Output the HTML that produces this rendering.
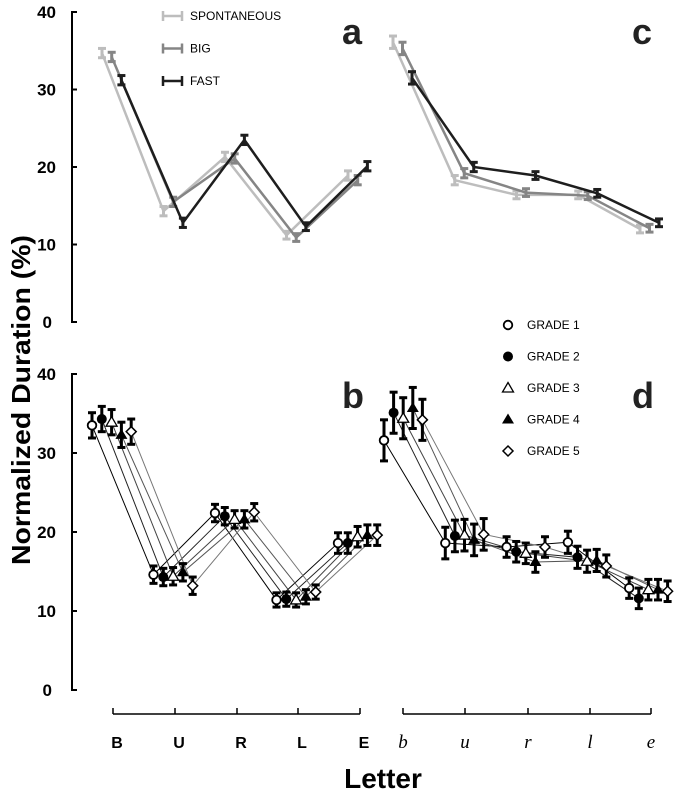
<!DOCTYPE html>
<html><head><meta charset="utf-8"><style>
body{margin:0;background:#fff}
svg{display:block;font-family:"Liberation Sans",Arial,sans-serif}
</style></head><body>
<svg id="c" width="675" height="793" viewBox="0 0 675 793"></svg>
<script>
// ---- data ----
const upperLetters = ["B","U","R","L","E"];
const cursiveLetters = ["b","u","r","l","e"];
const taskNames = ["SPONTANEOUS","BIG","FAST"];
const gradeNames = ["GRADE 1","GRADE 2","GRADE 3","GRADE 4","GRADE 5"];
const yTicks = [0,10,20,30,40];
// panel a (print, task)
const aSpont = [34.7,14.3,21.3,11.2,18.9];
const aBig   = [34.2,15.5,21.1,10.9,18.3];
const aFast  = [31.2,12.8,23.5,12.3,20.1];
const aErr   = [0.6,0.6,0.6,0.5,0.6];
// panel c (cursive, task)
const cSpont = [36.1,18.3,16.4,16.4,12.0];
const cBig   = [35.3,19.2,16.7,16.3,12.1];
const cFast  = [31.5,20.0,18.9,16.6,12.8];
const cErr   = [0.8,0.6,0.5,0.5,0.5];
// panel b (print, grade)
const bG1 = [33.5,14.6,22.4,11.4,18.6];
const bG2 = [34.3,14.3,22.0,11.5,18.6];
const bG3 = [33.9,14.4,21.6,11.4,19.4];
const bG4 = [32.3,14.9,21.6,11.8,19.6];
const bG5 = [32.7,13.2,22.5,12.4,19.6];
const bErr = [1.6,1.1,1.1,0.9,1.3];
// panel d (cursive, grade)
const dG1 = [31.6,18.6,18.1,18.7,12.9];
const dG2 = [35.1,19.5,17.5,16.8,11.6];
const dG3 = [34.4,19.6,17.3,16.3,12.7];
const dG4 = [35.7,19.0,16.2,16.4,12.7];
const dG5 = [34.2,19.7,18.1,15.7,12.5];
const dErr = [2.6,2.0,1.3,1.4,1.3];

const svg=document.getElementById('c');
const NS='http://www.w3.org/2000/svg';
function mk(tag,attrs,parent){const e=document.createElementNS(NS,tag);for(const k in attrs)e.setAttribute(k,attrs[k]);(parent||svg).appendChild(e);return e;}
function txt(s,attrs,parent){const e=mk('text',attrs,parent);e.textContent=s;return e;}

const yTop=v=>322-v*7.75;
const yBot=v=>690-v*7.9;
const xA=(i,j)=>102+i*61.5+j*9.7;
const xC=(i,j)=>393+i*61.75+j*9.5;
const xB=(i,j)=>92+i*61.5+j*9.8;
const xD=(i,j)=>384+i*61.3+j*9.6;

// y axes
function yAxis(sc,name){
  const g=mk('g',{});
  
  
  mk('line',{x1:72,x2:72,y1:sc(40),y2:sc(0),stroke:'#000','stroke-width':2},g);
  yTicks.forEach(t=>{
    mk('line',{x1:71,x2:77,y1:sc(t),y2:sc(t),stroke:'#000','stroke-width':2},g);
    const l=txt(String(t),{x:t===0?52:56,y:sc(t)+6,'text-anchor':'end','font-size':17,'font-weight':'bold'},g);
    
    
  });
}
yAxis(yTop,'y-axis-top');
yAxis(yBot,'y-axis-bottom');

const yt=txt('Normalized Duration (%)',{x:0,y:0,transform:'translate(30,400) rotate(-90)','text-anchor':'middle','font-size':26,'font-weight':'bold',textLength:330,lengthAdjust:'spacingAndGlyphs'});



// x axes
function xAxis(x0,x1,ticks,labels,italic,name){
  const g=mk('g',{});
  
  
  mk('line',{x1:x0,x2:x1,y1:714,y2:714,stroke:'#000','stroke-width':1.5},g);
  ticks.forEach((t,i)=>{
    mk('line',{x1:t,x2:t,y1:708,y2:714,stroke:'#000','stroke-width':1.5},g);
    const l=txt(labels[i],{x:t+(italic?0:4),y:748,'text-anchor':'middle','font-size':italic?19:16,'font-weight':italic?'normal':'bold','font-style':italic?'italic':'normal','font-family':italic?'"Liberation Serif",serif':'"Liberation Sans",sans-serif'},g);
    
    
  });
}
xAxis(113,360,[113,175,237,298,360],upperLetters,false,'x-axis-print');
xAxis(403,651,[403,465,528,590,651],cursiveLetters,true,'x-axis-cursive');
const xt=txt('Letter',{x:383,y:788,'text-anchor':'middle','font-size':28,'font-weight':'bold'});



// panel letters
[['a',342,44],['c',632,44],['b',342,408],['d',632,408]].forEach(p=>{
  const t=txt(p[0],{x:p[1],y:p[2],'font-size':36,'font-weight':'bold','fill':'#222'});
  
  
});

function errBar(g,x,y1,y2,color,w,cap){
  mk('line',{x1:x,x2:x,y1:y1,y2:y2,stroke:color,'stroke-width':w},g);
  mk('line',{x1:x-cap,x2:x+cap,y1:y1,y2:y1,stroke:color,'stroke-width':w},g);
  mk('line',{x1:x-cap,x2:x+cap,y1:y2,y2:y2,stroke:color,'stroke-width':w},g);
}

// task panels
const taskColors=['#bdbdbd','#858585','#1e1e1e'];
function taskPanel(series,err,xf,name){
  series.forEach((vals,j)=>{
    const g=mk('g',{});
    
    
    const pts=vals.map((v,i)=>xf(i,j)+','+yTop(v)).join(' ');
    mk('polyline',{points:pts,fill:'none',stroke:taskColors[j],'stroke-width':2.5},g);
    vals.forEach((v,i)=>errBar(g,xf(i,j),yTop(v+err[i]),yTop(v-err[i]),taskColors[j],3,4));
  });
}
taskPanel([aSpont,aBig,aFast],aErr,xA,'panel-a');
taskPanel([cSpont,cBig,cFast],cErr,xC,'panel-c');

// task legend
taskNames.forEach((n,j)=>{
  const g=mk('g',{});
  
  
  const y=16+j*32.5;
  mk('line',{x1:163,x2:182,y1:y,y2:y,stroke:taskColors[j],'stroke-width':2.5},g);
  mk('line',{x1:163,x2:163,y1:y-5,y2:y+5,stroke:taskColors[j],'stroke-width':2.5},g);
  mk('line',{x1:182,x2:182,y1:y-5,y2:y+5,stroke:taskColors[j],'stroke-width':2.5},g);
  txt(n,{x:190,y:y+4,'font-size':12},g);
});

// grade markers
function marker(g,k,x,y){
  if(k===0) mk('circle',{cx:x,cy:y,r:4.3,fill:'#fff',stroke:'#000','stroke-width':1.8},g);
  if(k===1) mk('circle',{cx:x,cy:y,r:5,fill:'#000'},g);
  if(k===2) mk('polygon',{points:`${x},${y-5.5} ${x+5.5},${y+4} ${x-5.5},${y+4}`,fill:'#fff',stroke:'#000','stroke-width':1.3},g);
  if(k===3) mk('polygon',{points:`${x},${y-6} ${x+6},${y+4} ${x-6},${y+4}`,fill:'#000'},g);
  if(k===4) mk('polygon',{points:`${x},${y-5} ${x+5},${y} ${x},${y+5} ${x-5},${y}`,fill:'#fff',stroke:'#000','stroke-width':1.5},g);
}
const gradeLine=['#000','#222','#444','#555','#777'];
function gradePanel(series,err,xf,name){
  series.forEach((vals,k)=>{
    const pts=vals.map((v,i)=>xf(i,k)+','+yBot(v)).join(' ');
    const l=mk('polyline',{points:pts,fill:'none',stroke:gradeLine[k],'stroke-width':1});
    
    
  });
  series.forEach((vals,k)=>{
    const g=mk('g',{});
    
    
    vals.forEach((v,i)=>{
      errBar(g,xf(i,k),yBot(v+err[i]),yBot(v-err[i]),'#000',3,4);
      marker(g,k,xf(i,k),yBot(v));
    });
  });
}
gradePanel([bG1,bG2,bG3,bG4,bG5],bErr,xB,'panel-b');
gradePanel([dG1,dG2,dG3,dG4,dG5],dErr,xD,'panel-d');

// grade legend
gradeNames.forEach((n,k)=>{
  const g=mk('g',{});
  
  
  const y=325+k*31.5;
  marker(g,k,508,y);
  txt(n,{x:527,y:y+4,'font-size':12},g);
});
</script>
</body></html>
